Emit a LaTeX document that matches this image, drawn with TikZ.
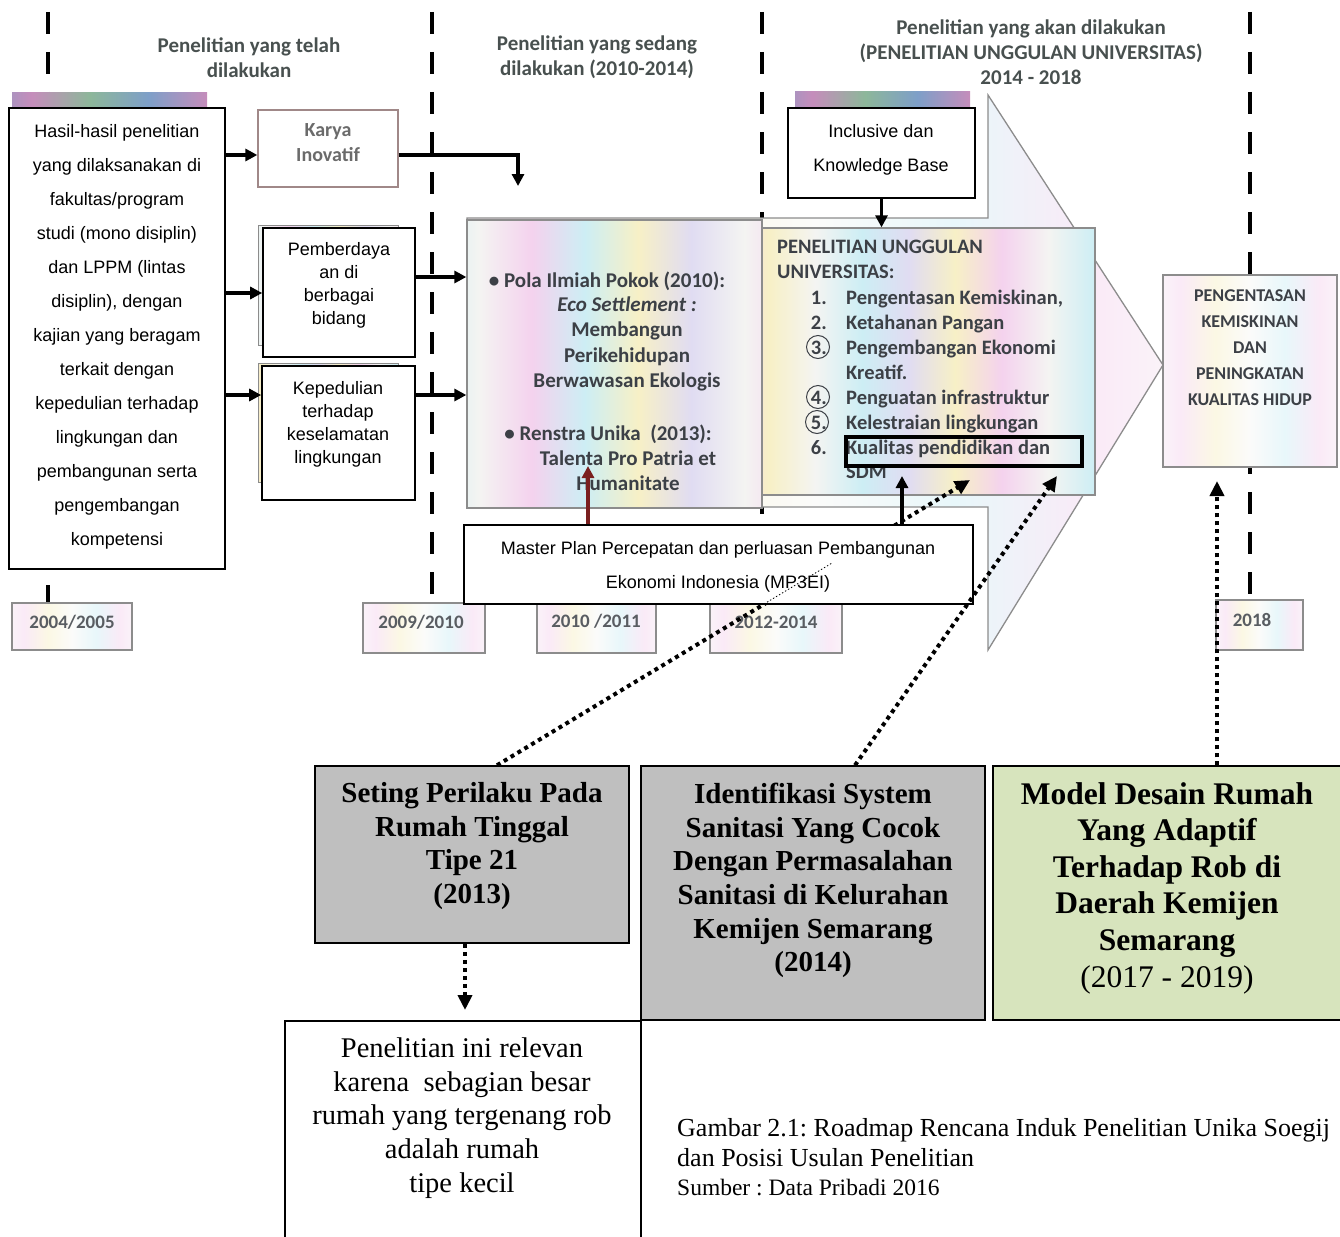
\documentclass[tikz,border=0pt]{standalone}
\usepackage{fontspec}
\setmainfont{Liberation Serif}
\newfontfamily\arialf{Liberation Sans}
\newfontfamily\calf{Carlito}
\usetikzlibrary{arrows.meta,fit}
\frenchspacing
\definecolor{scantext}{HTML}{3C4046}
\definecolor{headtext}{HTML}{48504F}
\definecolor{scanline}{HTML}{8C8C8C}
\definecolor{karyaline}{HTML}{A08888}
\definecolor{boxgray}{HTML}{BFBFBF}
\definecolor{boxgreen}{HTML}{D7E4BD}
\definecolor{darkred}{HTML}{7A1F1F}
\definecolor{pw}{HTML}{F4F4F2}
\definecolor{pc}{HTML}{CDEEF4}
\definecolor{pp}{HTML}{F4D2EE}
\definecolor{py}{HTML}{F7F0C6}
\definecolor{pl}{HTML}{E0DCF2}
\definecolor{qw}{HTML}{FBFBFA}
\definecolor{qc}{HTML}{E8F7FA}
\definecolor{qp}{HTML}{FAEAF7}
\definecolor{qy}{HTML}{FBF8E4}
\definecolor{s1}{HTML}{B89A78}
\definecolor{s2}{HTML}{7E9FC8}
\definecolor{s3}{HTML}{C58DBB}
\definecolor{s4}{HTML}{8DB79A}
\definecolor{s5}{HTML}{D0A070}
\pgfdeclarehorizontalshading{pastel}{100bp}{color(0bp)=(pw); color(7bp)=(pc); color(13bp)=(pw); color(19bp)=(pp); color(26bp)=(py); color(33bp)=(pw); color(40bp)=(pc); color(47bp)=(pl); color(54bp)=(py); color(61bp)=(pp); color(68bp)=(pw); color(75bp)=(pc); color(82bp)=(py); color(89bp)=(pp); color(95bp)=(pc); color(100bp)=(pw)}
\pgfdeclarehorizontalshading{pastelb}{100bp}{color(0bp)=(pp); color(9bp)=(py); color(18bp)=(pc); color(27bp)=(pw); color(36bp)=(pp); color(45bp)=(pc); color(54bp)=(py); color(63bp)=(pl); color(72bp)=(pw); color(81bp)=(pp); color(90bp)=(py); color(100bp)=(pc)}
\pgfdeclarehorizontalshading{pastellight}{100bp}{color(0bp)=(qw); color(10bp)=(qc); color(20bp)=(qw); color(30bp)=(qp); color(40bp)=(qy); color(50bp)=(qw); color(60bp)=(qc); color(70bp)=(qp); color(80bp)=(qw); color(90bp)=(qy); color(100bp)=(qw)}
\pgfdeclarehorizontalshading{stripshade}{100bp}{color(0bp)=(s1); color(15bp)=(s2); color(30bp)=(s3); color(45bp)=(s4); color(60bp)=(s2); color(75bp)=(s3); color(90bp)=(s5); color(100bp)=(s4)}
\newcommand\fsz[2]{\fontsize{#1}{#2}\selectfont}
\begin{document}
\begin{tikzpicture}[x=1pt,y=-1pt,
  timeline/.style={line width=4pt, dash pattern=on 22pt off 18pt},
  scanbox/.style={draw=scanline, line width=1.3pt, inner sep=0pt},
  blackbox/.style={draw=black, line width=1.6pt, fill=white, inner sep=0pt},
  graybox/.style={draw=black, line width=1.5pt, fill=boxgray, inner sep=0pt},
  thickarr/.style={line width=3.5pt, -{Triangle[length=12pt,width=12pt]}},
  dotarr/.style={line width=4pt, dash pattern=on 4pt off 4pt, -{Triangle[length=15pt,width=14pt]}},
  headfont/.style={font=\calf\bfseries\fsz{21}{25}, text=headtext, align=center, inner sep=0pt},
  scanfont/.style={font=\calf\bfseries\fsz{21}{25.3}, text=scantext, align=center, inner sep=0pt},
  listfont/.style={font=\calf\bfseries\fsz{20.5}{25}, text=scantext, inner sep=0pt},
  yearfont/.style={font=\calf\bfseries\fsz{19}{22}, text=scantext!85, inner sep=0pt},
  sansfont/.style={font=\arialf\fsz{18}{34}, align=center, inner sep=0pt},
  timesb/.style={font=\bfseries\fsz{29}{33.6}, align=center, inner sep=0pt},
]
\useasboundingbox (0,0) rectangle (1340,1236);

% ---------- year boxes ----------
\node[scanbox, shade, shading=pastellight, fit={(12,603)(132,650)}] (y2004) {};
\node[scanbox, shade, shading=pastellight, fit={(363,603)(485,653)}] (y2009) {};
\node[scanbox, shade, shading=pastellight, fit={(537,603)(656,653)}] (y2010) {};
\node[scanbox, shade, shading=pastellight, fit={(710,603)(842,653)}] (y2012) {};
\node[scanbox, shade, shading=pastellight, fit={(1216,600)(1303,650)}] (y2018) {};
\node[yearfont] (t2004) at (72,622) {2004/2005};
\node[yearfont] (t2009) at (421,622) {2009/2010};
\node[yearfont] (t2010) at (596,621) {2010 /2011};
\node[yearfont] (t2012) at (776,622) {2012-2014};
\node[yearfont] (t2018) at (1252,620) {2018};

% ---------- time lines ----------
\coordinate (l1) at (48,12);
\coordinate (l2) at (432,12);
\coordinate (l3) at (762,12);
\coordinate (l4) at (1250,12);
\coordinate (l1b) at (48,585);
\draw[timeline] (l1) -- (48,93);
\draw[line width=4pt] (l1b) -- (l1b |- y2004.north);
\draw[timeline] (l2) -- (l2 |- y2009.north);
\draw[timeline] (l3) -- (l3 |- y2012.north);
\draw[timeline] (l4) -- (l4 |- y2018.north);

% ---------- headers ----------
\node[headfont] (h1) at (249,57.5) {Penelitian yang telah\\dilakukan};
\node[headfont] (h2) at (597,57.5) {Penelitian yang sedang\\dilakukan (2010-2014)};
\node[headfont] (h3) at (1031,52) {Penelitian yang akan dilakukan\\(PENELITIAN UNGGULAN UNIVERSITAS)\\2014 - 2018};

% ---------- coloured strips / shadows ----------
\shade[shading=stripshade] (12,93) rectangle (207,110);
\shade[shading=stripshade] (795,92) rectangle (970,110);
\shadedraw[shading=pastelb, draw=scanline, line width=1pt] (258,225) rectangle (398,345);
\shadedraw[shading=pastel, draw=scanline, line width=1pt] (258,363) rectangle (398,482);

% ---------- big arrow ----------
\shadedraw[shading=pastellight, draw=scanline, line width=1.3pt]
  (467,218) -- (988,218) -- (988,95) -- (1163,365) -- (988,650) -- (988,507) -- (467,507) -- cycle;
\node[scanbox, shade, shading=pastelb, fit={(467,220)(762,508)}] (midbox) {};
\node[scanbox, shade, shading=pastel, fit={(762,228)(1095,495)}] (unggul) {};
\node[scanbox, shade, shading=pastellight, fit={(1163,275)(1337,467)}] (pengent) {};

% ---------- white boxes ----------
\node[blackbox, fit={(9,108)(225,569)}] (leftbox) {};
\node[draw=karyaline, line width=1.3pt, fill=white, inner sep=0pt, fit={(258,110)(398,187)}] (karya) {};
\node[blackbox, fit={(263,228)(415,357)}] (pemb) {};
\node[blackbox, fit={(262,366)(415,500)}] (kep) {};
\node[blackbox, fit={(788,108)(975,198)}] (incl) {};

% ---------- texts ----------
\node[sansfont] (lefttxt) at (117,337) {Hasil-hasil penelitian\\yang dilaksanakan di\\fakultas/program\\studi (mono disiplin)\\dan LPPM (lintas\\disiplin), dengan\\kajian yang beragam\\terkait dengan\\kepedulian terhadap\\lingkungan dan\\pembangunan serta\\pengembangan\\kompetensi};
\node[font=\calf\bfseries\fsz{20}{25}, text=black!58, align=center, inner sep=0pt] (karyatxt) at (328,142.5) {Karya\\Inovatif};
\node[font=\arialf\fsz{18}{23}, align=center, inner sep=0pt] (pembtxt) at (339,285.5) {Pemberdaya\\an di\\berbagai\\bidang};
\node[font=\arialf\fsz{18}{23}, align=center, inner sep=0pt] (keptxt) at (338,424.5) {Kepedulian\\terhadap\\keselamatan\\lingkungan};
\node[sansfont] (incltxt) at (881,150) {Inclusive dan\\Knowledge Base};

\node[scanfont] (m1) at (607,281) {• Pola Ilmiah Pokok (2010):};
\node[scanfont] (m2) at (627,344) {\itshape Eco Settlement :\\Membangun\\Perikehidupan\\Berwawasan Ekologis};
\node[scanfont] (m4) at (608,434) {• Renstra Unika\ \ (2013):};
\node[scanfont] (m5) at (628,471) {Talenta Pro Patria et\\Humanitate};

\node[listfont, anchor=base west] (u1) at (777,253) {PENELITIAN UNGGULAN};
\node[listfont, anchor=base west] (u2) at (777,278) {UNIVERSITAS:};
\node[listfont, anchor=base east] (n1) at (827,304) {1.};
\node[listfont, anchor=base east] (n2) at (827,329) {2.};
\node[listfont, anchor=base east] (n3) at (827,354) {3.};
\node[listfont, anchor=base east] (n4) at (827,404) {4.};
\node[listfont, anchor=base east] (n5) at (827,429) {5.};
\node[listfont, anchor=base east] (n6) at (827,454) {6.};
\node[listfont, anchor=base west] (i1) at (846,304) {Pengentasan Kemiskinan,};
\node[listfont, anchor=base west] (i2) at (846,329) {Ketahanan Pangan};
\node[listfont, anchor=base west] (i3) at (846,354) {Pengembangan Ekonomi};
\node[listfont, anchor=base west] (i3b) at (846,379) {Kreatif.};
\node[listfont, anchor=base west] (i4) at (846,404) {Penguatan infrastruktur};
\node[listfont, anchor=base west] (i5) at (846,429) {Kelestraian lingkungan};
\node[listfont, anchor=base west] (i6) at (846,454) {Kualitas pendidikan dan};
\node[listfont, anchor=base west] (i6b) at (846,478) {SDM};
\node[circle, draw=scantext, line width=1pt, minimum size=23pt, inner sep=0pt] (c3) at (818,347) {};
\node[circle, draw=scantext, line width=1pt, minimum size=23pt, inner sep=0pt] (c4) at (818,397) {};
\node[circle, draw=scantext, line width=1pt, minimum size=23pt, inner sep=0pt] (c5) at (817,422) {};
\node[draw=black, line width=4pt, inner sep=0pt, fit={(846,437)(1082,466)}] (kualbox) {};

\node[font=\calf\bfseries\fsz{18}{26}, text=scantext, align=center, inner sep=0pt] (pengtxt) at (1250,348) {PENGENTASAN\\KEMISKINAN\\DAN\\PENINGKATAN\\KUALITAS HIDUP};

% ---------- solid arrows ----------
\coordinate (ka) at (518,186);
\coordinate (ya) at (0,155);
\coordinate (yb) at (0,293);
\coordinate (yc) at (0,277);
\coordinate (yd) at (0,395);
\draw[thickarr] (leftbox.east |- ya) -- (karya.west |- ya);
\draw[thickarr] (karya.east |- ya) -- (ka |- ya) -- (ka);
\draw[thickarr] (leftbox.east |- yb) -- (pemb.west |- yb);
\draw[thickarr] (pemb.east |- yc) -- (midbox.west |- yc);
\draw[thickarr] (leftbox.east |- yd) -- (kep.west |- yd);
\draw[thickarr] (kep.east |- yd) -- (midbox.west |- yd);
\draw[thickarr] (incl.south) -- (incl.south |- unggul.north);

% ---------- bottom boxes ----------
\node[graybox, fit={(315,766)(629,943)}] (seting) {};
\node[graybox, fit={(641,766)(985,1020)}] (ident) {};
\node[draw=black, line width=1.5pt, fill=boxgreen, inner sep=0pt, fit={(993,766)(1348,1020)}] (model) {};
\node[blackbox, fit={(285,1021)(641,1248)}] (relevan) {};

% ---------- dotted arrows and master plan ----------
\coordinate (xs1) at (497,0);
\coordinate (d1e) at (970,480);
\coordinate (xs2) at (855,0);
\coordinate (d2e) at (1057,476);
\coordinate (xs3) at (1217,0);
\coordinate (d3e) at (1217,481);
\coordinate (xs4) at (465,0);
\coordinate (d4e) at (465,1010);
\coordinate (x588) at (588,0);
\coordinate (x902) at (902,0);
\draw[dotarr] (seting.north -| xs1) -- (d1e);
\node[blackbox, fit={(464,525)(973,604)}] (mp) {};
\draw[line width=0.8pt, dash pattern=on 1.5pt off 2pt] (764,604) -- (832,563);
\node[sansfont] (mptxt) at (718,567) {Master Plan Percepatan dan perluasan Pembangunan\\Ekonomi Indonesia (MP3EI)};
\draw[line width=3.5pt, darkred, -{Triangle[length=12pt,width=12pt]}] (mp.north -| x588) -- (588,466);
\draw[thickarr] (mp.north -| x902) -- (902,476);
\draw[dotarr] (ident.north -| xs2) -- (d2e);
\draw[dotarr] (model.north -| xs3) -- (d3e);
\draw[dotarr] (seting.south -| xs4) -- (d4e);

% ---------- bottom texts ----------
\node[timesb] (setingtxt) at (472,846) {Seting Perilaku Pada\\Rumah Tinggal\\Tipe 21\\(2013)};
\node[timesb] (identtxt) at (813,880.5) {Identifikasi System\\Sanitasi Yang Cocok\\Dengan Permasalahan\\Sanitasi di Kelurahan\\Kemijen Semarang\\(2014)};
\node[font=\fsz{31.5}{36.6}, align=center, inner sep=0pt] (modeltxt) at (1167,888) {\textbf{Model Desain Rumah}\\\textbf{Yang Adaptif}\\\textbf{Terhadap Rob di}\\\textbf{Daerah Kemijen}\\\textbf{Semarang}\\(2017 - 2019)};
\node[font=\fsz{28.5}{33.75}, align=center, inner sep=0pt] (relevantxt) at (462,1118) {Penelitian ini relevan\\karena\ \ sebagian besar\\rumah yang tergenang rob\\adalah rumah\\tipe kecil};

% ---------- caption ----------
\node[font=\fsz{26}{30}, anchor=base west, inner sep=0pt] (cap1) at (677,1136) {Gambar 2.1: Roadmap Rencana Induk Penelitian Unika Soegij};
\node[font=\fsz{26}{30}, anchor=base west, inner sep=0pt] (cap2) at (677,1166) {dan Posisi Usulan Penelitian};
\node[font=\fsz{23.5}{28}, anchor=base west, inner sep=0pt] (cap3) at (677,1195) {Sumber : Data Pribadi 2016};
\end{tikzpicture}
\end{document}
